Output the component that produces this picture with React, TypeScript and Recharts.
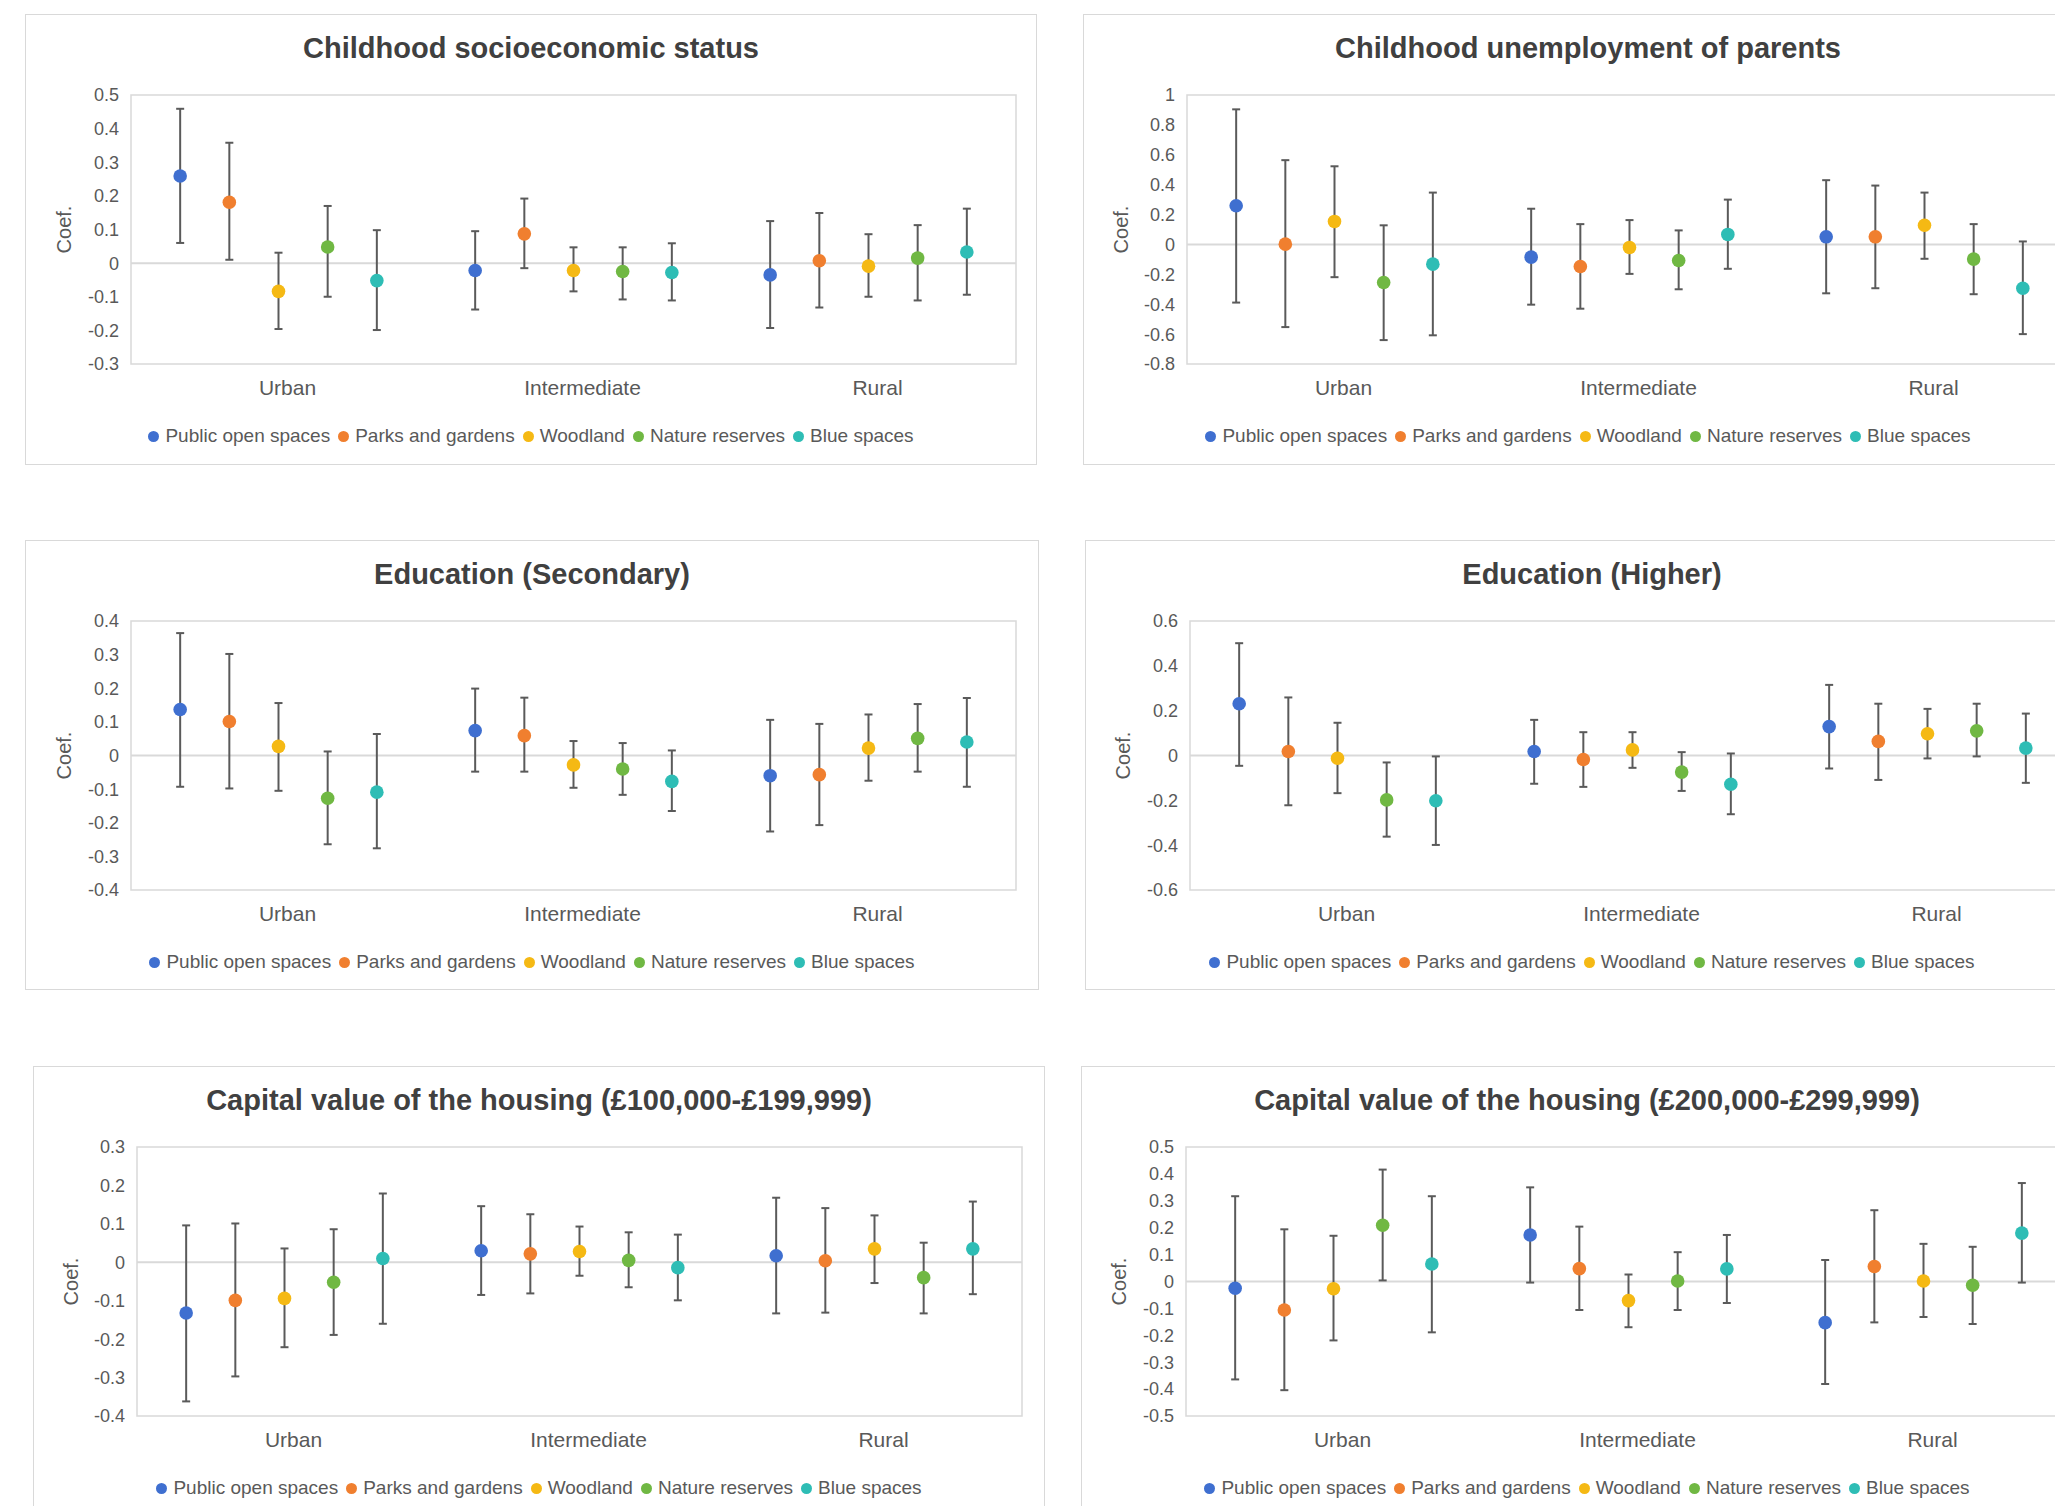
import {
  ErrorBar,
  ReferenceArea,
  ReferenceLine,
  Scatter,
  ScatterChart,
  XAxis,
  YAxis,
} from "recharts";

const categories = ["Urban", "Intermediate", "Rural"];
const seriesNames = ["Public open spaces", "Parks and gardens", "Woodland", "Nature reserves", "Blue spaces"];
const seriesColors = ["#3F6FD0", "#F07F2F", "#F5B914", "#70B843", "#2EBDB5"];

// rows = series, columns = Urban / Intermediate / Rural
const sesCoef = [
  [0.259, -0.022, -0.035],
  [0.181, 0.087, 0.007],
  [-0.084, -0.022, -0.009],
  [0.048, -0.025, 0.015],
  [-0.052, -0.028, 0.033],
];
const sesLow = [
  [0.06, -0.138, -0.193],
  [0.01, -0.015, -0.132],
  [-0.196, -0.084, -0.1],
  [-0.1, -0.108, -0.111],
  [-0.199, -0.111, -0.094],
];
const sesHigh = [
  [0.459, 0.095, 0.125],
  [0.358, 0.192, 0.149],
  [0.031, 0.047, 0.086],
  [0.17, 0.047, 0.113],
  [0.098, 0.059, 0.162],
];

const unempCoef = [
  [0.259, -0.085, 0.051],
  [0.002, -0.148, 0.051],
  [0.154, -0.02, 0.128],
  [-0.255, -0.107, -0.098],
  [-0.132, 0.067, -0.293],
];
const unempLow = [
  [-0.389, -0.403, -0.327],
  [-0.553, -0.43, -0.293],
  [-0.219, -0.197, -0.096],
  [-0.64, -0.3, -0.333],
  [-0.608, -0.163, -0.6],
];
const unempHigh = [
  [0.904, 0.239, 0.43],
  [0.564, 0.136, 0.394],
  [0.523, 0.163, 0.347],
  [0.128, 0.094, 0.136],
  [0.347, 0.3, 0.02],
];

const eduSecCoef = [
  [0.137, 0.074, -0.06],
  [0.101, 0.059, -0.057],
  [0.027, -0.028, 0.022],
  [-0.127, -0.04, 0.051],
  [-0.109, -0.077, 0.04],
];
const eduSecLow = [
  [-0.093, -0.048, -0.226],
  [-0.098, -0.048, -0.207],
  [-0.105, -0.096, -0.075],
  [-0.264, -0.117, -0.048],
  [-0.276, -0.165, -0.093],
];
const eduSecHigh = [
  [0.364, 0.199, 0.106],
  [0.302, 0.172, 0.094],
  [0.156, 0.043, 0.122],
  [0.012, 0.037, 0.153],
  [0.064, 0.015, 0.171],
];

const eduHighCoef = [
  [0.231, 0.018, 0.129],
  [0.018, -0.018, 0.063],
  [-0.012, 0.025, 0.097],
  [-0.198, -0.074, 0.11],
  [-0.202, -0.128, 0.033],
];
const eduHighLow = [
  [-0.046, -0.126, -0.058],
  [-0.222, -0.14, -0.109],
  [-0.168, -0.055, -0.013],
  [-0.362, -0.158, -0.004],
  [-0.399, -0.262, -0.122],
];
const eduHighHigh = [
  [0.501, 0.159, 0.315],
  [0.259, 0.104, 0.231],
  [0.146, 0.104, 0.208],
  [-0.031, 0.015, 0.231],
  [-0.004, 0.009, 0.187],
];

const cap1Coef = [
  [-0.132, 0.03, 0.017],
  [-0.099, 0.022, 0.004],
  [-0.094, 0.028, 0.035],
  [-0.052, 0.005, -0.04],
  [0.01, -0.014, 0.035],
];
const cap1Low = [
  [-0.362, -0.085, -0.133],
  [-0.297, -0.081, -0.131],
  [-0.221, -0.035, -0.054],
  [-0.189, -0.065, -0.133],
  [-0.16, -0.099, -0.083],
];
const cap1High = [
  [0.096, 0.146, 0.168],
  [0.101, 0.125, 0.141],
  [0.036, 0.093, 0.122],
  [0.086, 0.078, 0.051],
  [0.179, 0.072, 0.158],
];

const cap2Coef = [
  [-0.025, 0.173, -0.153],
  [-0.106, 0.048, 0.056],
  [-0.027, -0.071, 0.002],
  [0.209, 0.002, -0.014],
  [0.065, 0.047, 0.18],
];
const cap2Low = [
  [-0.364, -0.004, -0.381],
  [-0.404, -0.106, -0.152],
  [-0.219, -0.17, -0.132],
  [0.004, -0.106, -0.158],
  [-0.189, -0.08, -0.004],
];
const cap2High = [
  [0.317, 0.35, 0.08],
  [0.194, 0.204, 0.265],
  [0.17, 0.026, 0.14],
  [0.416, 0.109, 0.129],
  [0.317, 0.173, 0.366],
];

const ticksSes = [-0.3, -0.2, -0.1, 0, 0.1, 0.2, 0.3, 0.4, 0.5];
const ticksUnemp = [-0.8, -0.6, -0.4, -0.2, 0, 0.2, 0.4, 0.6, 0.8, 1];
const ticksEduSec = [-0.4, -0.3, -0.2, -0.1, 0, 0.1, 0.2, 0.3, 0.4];
const ticksEduHigh = [-0.6, -0.4, -0.2, 0, 0.2, 0.4, 0.6];
const ticksCap1 = [-0.4, -0.3, -0.2, -0.1, 0, 0.1, 0.2, 0.3];
const ticksCap2 = [-0.5, -0.4, -0.3, -0.2, -0.1, 0, 0.1, 0.2, 0.3, 0.4, 0.5];

type PanelDef = {
  title: string;
  coef: number[][];
  low: number[][];
  high: number[][];
  ticks: number[];
  left: number;
  top: number;
  width: number;
  height: number;
  plotLeft: number;
};

const panels: PanelDef[] = [
  { title: "Childhood socioeconomic status", coef: sesCoef, low: sesLow, high: sesHigh, ticks: ticksSes, left: 25, top: 14, width: 1012, height: 451, plotLeft: 105 },
  { title: "Childhood unemployment of parents", coef: unempCoef, low: unempLow, high: unempHigh, ticks: ticksUnemp, left: 1083, top: 14, width: 1010, height: 451, plotLeft: 103 },
  { title: "Education (Secondary)", coef: eduSecCoef, low: eduSecLow, high: eduSecHigh, ticks: ticksEduSec, left: 25, top: 540, width: 1014, height: 450, plotLeft: 105 },
  { title: "Education (Higher)", coef: eduHighCoef, low: eduHighLow, high: eduHighHigh, ticks: ticksEduHigh, left: 1085, top: 540, width: 1014, height: 450, plotLeft: 104 },
  { title: "Capital value of the housing (£100,000-£199,999)", coef: cap1Coef, low: cap1Low, high: cap1High, ticks: ticksCap1, left: 33, top: 1066, width: 1012, height: 470, plotLeft: 103 },
  { title: "Capital value of the housing (£200,000-£299,999)", coef: cap2Coef, low: cap2Low, high: cap2High, ticks: ticksCap2, left: 1081, top: 1066, width: 1012, height: 470, plotLeft: 104 },
];

const PLOT_TOP = 80;
const PLOT_W = 885;
const PLOT_H = 269;
const SLOTS = 6; // 5 markers per category, one slot of padding

const fmt = (v: number) => String(Number(v.toFixed(2)));

function seriesData(p: PanelDef, s: number) {
  return categories.map((_, c) => ({
    x: c * SLOTS + s + 1,
    y: p.coef[s][c],
    err: [p.coef[s][c] - p.low[s][c], p.high[s][c] - p.coef[s][c]],
  }));
}

function Panel({ p }: { p: PanelDef }) {
  const domain: [number, number] = [p.ticks[0], p.ticks[p.ticks.length - 1]];
  const xMax = categories.length * SLOTS;
  return (
    <div
      style={{
        position: "absolute",
        left: p.left,
        top: p.top,
        width: p.width,
        height: p.height,
        border: "1.5px solid #D9D9D9",
        boxSizing: "border-box",
        background: "#fff",
      }}
    >
      <div
        style={{
          position: "absolute",
          top: 13,
          left: 0,
          width: "100%",
          textAlign: "center",
          fontSize: 29,
          fontWeight: "bold",
          lineHeight: "40px",
          color: "#404040",
        }}
      >
        {p.title}
      </div>
      <div style={{ position: "absolute", left: 0, top: 0 }}>
        <ScatterChart
          width={p.width}
          height={PLOT_TOP + PLOT_H + 50}
          margin={{ top: PLOT_TOP, right: p.width - p.plotLeft - PLOT_W, bottom: 0, left: 0 }}
        >
          <ReferenceArea x1={0} x2={xMax} y1={domain[0]} y2={domain[1]} fill="none" stroke="#D9D9D9" strokeWidth={1.5} />
          <ReferenceLine y={0} stroke="#D9D9D9" strokeWidth={2} />
          <XAxis
            type="number"
            dataKey="x"
            domain={[0, xMax]}
            ticks={categories.map((_, c) => c * SLOTS + SLOTS / 2)}
            tickFormatter={(v: number) => categories[Math.round((v - SLOTS / 2) / SLOTS)]}
            interval={0}
            axisLine={false}
            tickLine={false}
            tickSize={0}
            tickMargin={16}
            height={50}
            tick={{ fontSize: 21, fill: "#595959", dx: 9 }}
          />
          <YAxis
            type="number"
            dataKey="y"
            domain={domain}
            ticks={p.ticks}
            interval={0}
            tickFormatter={fmt}
            axisLine={false}
            tickLine={false}
            tickSize={0}
            tickMargin={12}
            width={p.plotLeft}
            tick={{ fontSize: 18, fill: "#595959" }}
            label={{ value: "Coef.", angle: -90, position: "center", dx: -15, fontSize: 20, fill: "#595959" }}
          />
          {seriesNames.map((name, s) => (
            <Scatter
              key={name}
              name={name}
              data={seriesData(p, s)}
              fill={seriesColors[s]}
              isAnimationActive={false}
              shape={(props: any) => <circle cx={props.cx} cy={props.cy} r={6.8} fill={seriesColors[s]} />}
            >
              <ErrorBar dataKey="err" direction="y" width={4} stroke="#5A5A5A" strokeWidth={2} isAnimationActive={false} />
            </Scatter>
          ))}
        </ScatterChart>
      </div>
      <div
        style={{
          position: "absolute",
          top: 408,
          left: 0,
          width: "100%",
          display: "flex",
          justifyContent: "center",
          alignItems: "center",
          fontSize: 19,
          lineHeight: "26px",
          color: "#595959",
          whiteSpace: "nowrap",
        }}
      >
        {seriesNames.map((name, s) => (
          <span key={name} style={{ display: "inline-flex", alignItems: "center", marginRight: s < seriesNames.length - 1 ? 8 : 0 }}>
            <span
              style={{
                display: "inline-block",
                width: 11,
                height: 11,
                borderRadius: "50%",
                background: seriesColors[s],
                marginRight: 6,
              }}
            />
            {name}
          </span>
        ))}
      </div>
    </div>
  );
}

export default function App() {
  return (
    <div
      style={{
        position: "absolute",
        left: 0,
        top: 0,
        width: 2055,
        height: 1506,
        overflow: "hidden",
        background: "#fff",
        fontFamily: "'Liberation Sans', Arial, sans-serif",
      }}
    >
      {panels.map((p) => (
        <Panel key={p.title} p={p} />
      ))}
    </div>
  );
}
